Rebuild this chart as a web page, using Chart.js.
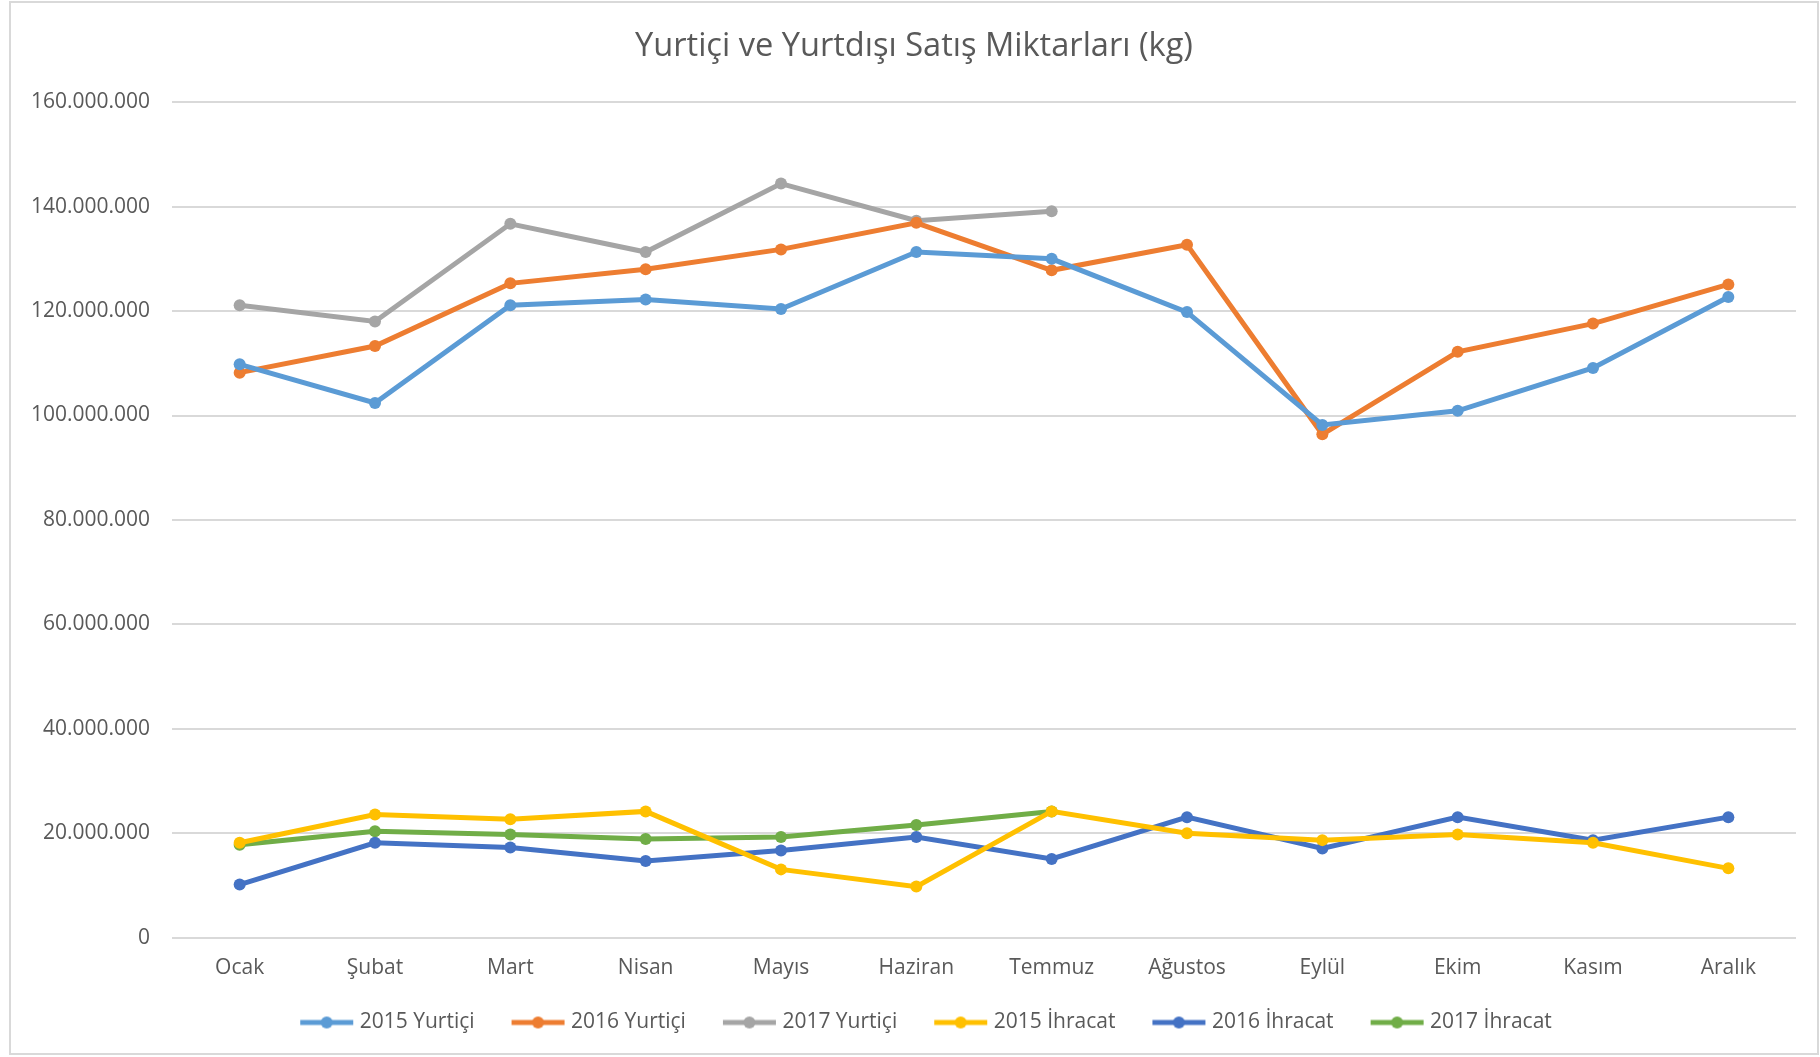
<!DOCTYPE html>
<html>
<head>
<meta charset="utf-8">
<script src="https://cdn.jsdelivr.net/npm/chart.js@4.4.1/dist/chart.umd.min.js"></script>
<style>
  html, body { margin: 0; padding: 0; background: #fff; }
  #wrap { position: absolute; left: 9px; top: 1px; width: 1810px; height: 1054px; border: 2px solid #d9d9d9; box-sizing: border-box; }
  #myChart { position: absolute; left: 0; top: 0; }
</style>
</head>
<body>
<div id="wrap"><canvas id="myChart" width="1806" height="1050"></canvas></div>
<script>
// aylar
const months = ["Ocak", "Şubat", "Mart", "Nisan", "Mayıs", "Haziran", "Temmuz", "Ağustos", "Eylül", "Ekim", "Kasım", "Aralık"];

// yurtiçi satış (kg)
const yurtici2015 = [109800000, 102400000, 121100000, 122200000, 120400000, 131300000, 130000000, 119800000, 98200000, 100900000, 109100000, 122700000];
const yurtici2016 = [108200000, 113300000, 125300000, 128000000, 131800000, 136900000, 127800000, 132700000, 96400000, 112200000, 117600000, 125100000];
const yurtici2017 = [121100000, 118000000, 136700000, 131300000, 144400000, 137300000, 139100000, null, null, null, null, null];

// ihracat (kg)
const ihracat2015 = [18200000, 23600000, 22700000, 24200000, 13100000, 9800000, 24200000, 20000000, 18700000, 19800000, 18200000, 13300000];
const ihracat2016 = [10200000, 18200000, 17300000, 14700000, 16700000, 19300000, 15100000, 23100000, 17100000, 23100000, 18700000, 23100000];
const ihracat2017 = [17800000, 20400000, 19800000, 18900000, 19300000, 21600000, 24200000, null, null, null, null, null];

const yTicks = [0, 20000000, 40000000, 60000000, 80000000, 100000000, 120000000, 140000000, 160000000];

const series = [
  { label: "2015 Yurtiçi", data: yurtici2015, color: "#5B9BD5" },
  { label: "2016 Yurtiçi", data: yurtici2016, color: "#ED7D31" },
  { label: "2017 Yurtiçi", data: yurtici2017, color: "#A5A5A5" },
  { label: "2015 İhracat", data: ihracat2015, color: "#FFC000" },
  { label: "2016 İhracat", data: ihracat2016, color: "#4472C4" },
  { label: "2017 İhracat", data: ihracat2017, color: "#70AD47" },
];

// excel tarzı lejant işareti: çizgi + nokta
// kutu genişliği ICON_W, resim sağa doğru 5px taşıyor (yazıya yaklaşsın diye)
const ICON_W = 73;
const OVER = 5;
const legendIcon = (color) => {
  const c = document.createElement("canvas");
  c.width = ICON_W + OVER * 2;
  c.height = 14;
  const g = c.getContext("2d");
  const x1 = c.width - 1;
  const x0 = x1 - 53;
  g.strokeStyle = color;
  g.lineWidth = 5;
  g.beginPath();
  g.moveTo(x0, 7);
  g.lineTo(x1, 7);
  g.stroke();
  g.fillStyle = color;
  g.beginPath();
  g.arc((x0 + x1) / 2, 7, 6, 0, Math.PI * 2);
  g.fill();
  return c;
};

const fmt = (v) => String(v).replace(/\B(?=(\d{3})+(?!\d))/g, ".");

const font = "'Open Sans', 'Liberation Sans', sans-serif";

const chartParams = {
  type: "line",
  data: {
    labels: months,
    datasets: series.map((s) => ({
      label: s.label,
      data: s.data,
      borderColor: s.color,
      backgroundColor: s.color,
      borderWidth: 5,
      pointRadius: 6,
      pointBorderWidth: 0,
      pointStyle: "circle",
      pointHoverRadius: 6,
      tension: 0,
      spanGaps: false,
      icon: legendIcon(s.color),
    })),
  },
  options: {
    responsive: false,
    animation: false,
    layout: { padding: { left: 21, right: 21, top: 6, bottom: 10 } },
    plugins: {
      title: {
        display: true,
        text: "Yurtiçi ve Yurtdışı Satış Miktarları (kg)",
        color: "#595959",
        font: { family: font, size: 32.6, weight: "normal" },
        padding: { top: 18, bottom: 36 },
      },
      legend: {
        position: "bottom",
        labels: {
          usePointStyle: true,
          pointStyleWidth: ICON_W,
          color: "#595959",
          font: { family: font, size: 21 },
          padding: 13,
          generateLabels: (chart) =>
            chart.data.datasets.map((d, i) => ({
              text: d.label,
              fontColor: "#595959",
              pointStyle: d.icon,
              datasetIndex: i,
              hidden: false,
              lineWidth: 0,
              strokeStyle: d.borderColor,
              fillStyle: d.borderColor,
            })),
        },
      },
      tooltip: { enabled: false },
    },
    scales: {
      x: {
        offset: true,
        grid: { display: false, drawTicks: false },
        border: { display: false },
        ticks: { color: "#595959", font: { family: font, size: 21 }, padding: 18 },
      },
      y: {
        min: 0,
        max: 160000000,
        afterBuildTicks: (axis) => {
          axis.ticks = yTicks.map((v) => ({ value: v }));
        },
        afterFit: (axis) => {
          axis.width = 140;
        },
        grid: { color: "#d9d9d9", lineWidth: 2, drawTicks: false },
        border: { display: false },
        ticks: {
          color: "#595959",
          font: { family: font, size: 21 },
          padding: 22,
          callback: (v) => fmt(v),
        },
      },
    },
  },
};

const ctx = document.getElementById("myChart").getContext("2d");
const myChart = new Chart(ctx, chartParams);
</script>
</body>
</html>
